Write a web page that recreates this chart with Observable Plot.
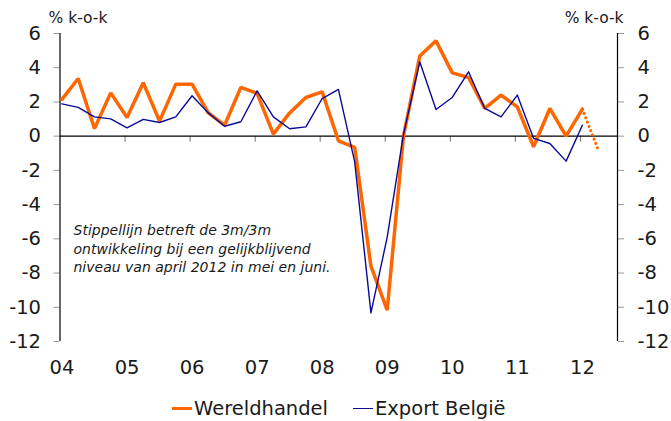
<!DOCTYPE html>
<html>
<head>
<meta charset="utf-8">
<script src="https://cdn.jsdelivr.net/npm/d3@7"></script>
<script src="https://cdn.jsdelivr.net/npm/@observablehq/plot@0.6"></script>
<style>
  body { margin: 0; background: #fff; font-family: "DejaVu Sans", Verdana, sans-serif; }
  #wrap { position: relative; width: 671px; height: 421px; }
  #legend { position: absolute; top: 390px; left: 0; width: 671px; height: 31px; font-size: 19.5px; color: #1a1a1a; }
  .item { position: absolute; top: 7px; display: flex; align-items: center; }
  .sw { display: inline-block; width: 20px; margin-right: 2px; }
</style>
</head>
<body>
<div id="wrap">
  <div id="chart"></div>
  <div id="legend">
    <div class="item" style="left:172px"><span class="sw" style="height:3px;background:#FF6600"></span><span>Wereldhandel</span></div>
    <div class="item" style="left:353px"><span class="sw" style="height:1.5px;background:#0a0a96"></span><span>Export België</span></div>
  </div>
</div>
<script>
const quarters = [
  "2004Q1","2004Q2","2004Q3","2004Q4",
  "2005Q1","2005Q2","2005Q3","2005Q4",
  "2006Q1","2006Q2","2006Q3","2006Q4",
  "2007Q1","2007Q2","2007Q3","2007Q4",
  "2008Q1","2008Q2","2008Q3","2008Q4",
  "2009Q1","2009Q2","2009Q3","2009Q4",
  "2010Q1","2010Q2","2010Q3","2010Q4",
  "2011Q1","2011Q2","2011Q3","2011Q4",
  "2012Q1"
];
const wereldhandel = [
  2.15, 3.37, 0.45, 2.53,
  1.09, 3.12, 0.88, 3.04,
  3.04, 1.36, 0.64, 2.85,
  2.50, 0.12, 1.36, 2.26,
  2.59, -0.27, -0.66, -7.6,
  -10.17, 0.0, 4.68, 5.57,
  3.70, 3.43, 1.62, 2.40,
  1.71, -0.62, 1.62, 0.0,
  1.58
];
const exportBelgie = [
  1.89, 1.68, 1.13, 1.01,
  0.49, 0.98, 0.80, 1.13,
  2.36, 1.36, 0.58, 0.84,
  2.65, 1.13, 0.43, 0.54,
  2.20, 2.73, -1.50, -10.33,
  -5.9, 0.1, 4.35, 1.56,
  2.26, 3.76, 1.62, 1.13,
  2.40, -0.13, -0.43, -1.46,
  0.64
];
const projQuarters = ["2012Q1", "2012Q2"];
const projWereldhandel = [1.58, -0.86];

const yearTicks = [2004, 2005, 2006, 2007, 2008, 2009, 2010, 2011, 2012];
const yearLabels = ["04", "05", "06", "07", "08", "09", "10", "11", "12"];
const yTicks = [6, 4, 2, 0, -2, -4, -6, -8, -10, -12];
const unitLabel = "% k-o-k";
const note = "Stippellijn betreft de 3m/3m\nontwikkeling bij een gelijkblijvend\nniveau van april 2012 in mei en juni.";

const toT = q => +q.slice(0, 4) + (+q[5] - 1) / 4 + 0.03;
const xMin = 2004, xMax = 2012.57;

const orange = quarters.map((q, i) => ({t: toT(q), v: wereldhandel[i]}));
const blue = quarters.map((q, i) => ({t: toT(q), v: exportBelgie[i]}));
const proj = projQuarters.map((q, i) => ({t: toT(q), v: projWereldhandel[i]}));

const chart = Plot.plot({
  width: 671,
  height: 390,
  marginLeft: 59.5,
  marginRight: 54,
  marginTop: 33,
  marginBottom: 49,
  style: {fontFamily: "DejaVu Sans, Verdana, sans-serif", color: "#1a1a1a", background: "#fff"},
  x: {type: "linear", domain: [xMin, xMax]},
  y: {domain: [-12, 6]},
  marks: [
    Plot.axisY(yTicks, {anchor: "left", tickSize: 6, tickPadding: 13, fontSize: 19.5, stroke: "#999", fill: "#1a1a1a", label: null, tickFormat: d => d}),
    Plot.axisY(yTicks, {anchor: "right", tickSize: 6, tickPadding: 14, fontSize: 19.5, stroke: "#999", fill: "#1a1a1a", label: null, tickFormat: d => d}),
    Plot.axisX(yearTicks, {anchor: "bottom", tickSize: 0, tickPadding: 19, dx: 2, fontSize: 19.5, fill: "#1a1a1a", label: null, tickFormat: (d, i) => yearLabels[i]}),
    Plot.ruleX(yearTicks.slice(1), {y1: 0, y2: -0.35, stroke: "#888", strokeWidth: 1.2}),
    Plot.ruleY([0], {stroke: "#000", strokeWidth: 1.2}),
    Plot.ruleX([xMin, xMax], {stroke: "#000", strokeWidth: 1.2}),
    Plot.line(orange, {x: "t", y: "v", stroke: "#FF6600", strokeWidth: 3.5, strokeLinejoin: "miter"}),
    Plot.line(proj, {x: "t", y: "v", stroke: "#FF6600", strokeWidth: 3, strokeDasharray: "0.1 4.5", strokeLinecap: "round"}),
    Plot.line(blue, {x: "t", y: "v", stroke: "#0a0a96", strokeWidth: 1.4}),
    Plot.text([unitLabel], {frameAnchor: "top-left", dx: -11.5, dy: -15, textAnchor: "start", lineAnchor: "middle", fontSize: 15.5, fill: "#1a1a1a"}),
    Plot.text([unitLabel], {frameAnchor: "top-right", dx: 6, dy: -15, textAnchor: "end", lineAnchor: "middle", fontSize: 15.5, fill: "#1a1a1a"}),
    Plot.text([note], {frameAnchor: "top-left", dx: 13.5, dy: 189, textAnchor: "start", lineAnchor: "top", fontSize: 14, fontStyle: "italic", lineHeight: 1.3, fill: "#1a1a1a"})
  ]
});
document.getElementById("chart").appendChild(chart);
</script>
</body>
</html>
